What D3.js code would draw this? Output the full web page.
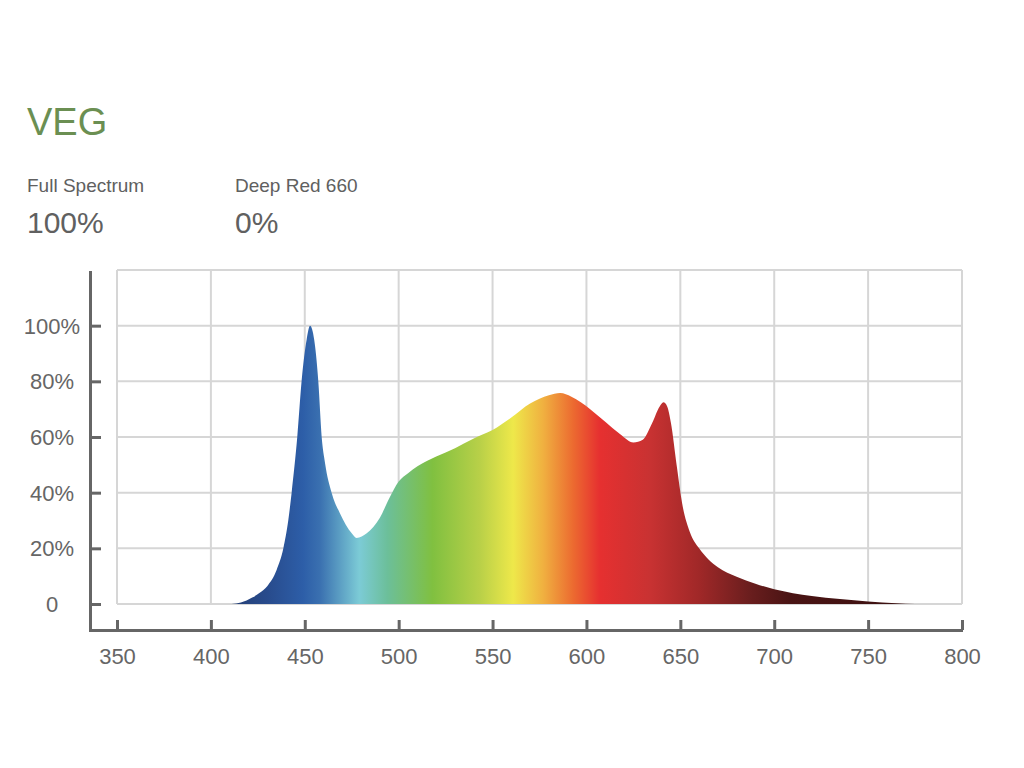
<!DOCTYPE html>
<html>
<head>
<meta charset="utf-8">
<script src="https://cdn.jsdelivr.net/npm/d3@7/dist/d3.min.js"></script>
<style>
  body { margin: 0; background: #fff; }
  text { font-family: "Liberation Sans", Arial, sans-serif; }
</style>
</head>
<body>
<svg id="chart" width="1024" height="768"></svg>
<script>
// Spectrum: wavelength (nm) and relative intensity (%)
const wavelengths = [411, 416, 422, 426, 430, 435, 438.6, 441.2, 443, 446, 448.3, 451, 452.8,
    455, 457.2, 459, 460.8, 464.3, 468.7, 475, 477.6, 483, 490, 495, 500, 505, 510,
    520, 530, 540, 550, 560, 570, 580, 586, 592, 597, 602, 610, 618, 625, 630,
    635, 639, 641, 643, 645, 648, 651, 655, 660, 665, 670, 675, 680, 690, 700, 710,
    720, 735, 750, 765, 775];
const intensity = [0, 0.5, 2.3, 4, 6.4, 12.2, 20, 30, 40, 60, 80, 95, 100,
    95, 80, 60, 50.6, 40, 32.6, 25.4, 23.7, 25.4, 31, 38, 44, 47, 49.5,
    53, 56, 59.5, 62.5, 67, 72, 75, 75.8, 74.5, 72.5, 70, 65.5, 61, 58, 59,
    65, 71, 72.5, 71, 65, 50, 36, 26, 20, 16, 13.2, 11.2, 9.8, 7.3, 5.3, 3.9,
    2.9, 1.8, 0.9, 0.3, 0];

const xTicks = [350, 400, 450, 500, 550, 600, 650, 700, 750, 800];
const yTicks = [0, 20, 40, 60, 80, 100];
const yGrid = [0, 20, 40, 60, 80, 100, 120];

// colour of the light at each wavelength
const stopNm = [410, 430, 449, 458, 479, 494, 518, 543, 561, 577, 593, 607, 634, 660, 687, 708, 775];
const stopColor = ["#243f75", "#284b8c", "#2d5ea8", "#3a70b0", "#7ccbd6", "#6cbf9a",
    "#80c040", "#b8d048", "#eee84a", "#f0b040", "#ec6a30", "#e63030", "#c83232",
    "#a02828", "#6a1e1e", "#4a1414", "#3a1010"];

const data = wavelengths.map((w, i) => ({ nm: w, pct: intensity[i] }));

const svg = d3.select("#chart");

const x = d3.scaleLinear().domain([350, 800]).range([117, 962]);
const y = d3.scaleLinear().domain([0, 120]).range([604, 270]);

// Header texts
svg.append("text").attr("x", 27).attr("y", 135)
    .style("font-size", "38px").style("fill", "#6b8f52").text("VEG");

const header = [
    { x: 27, label: "Full Spectrum", value: "100%" },
    { x: 235, label: "Deep Red 660", value: "0%" }
];
header.forEach(h => {
    svg.append("text").attr("x", h.x).attr("y", 192)
        .style("font-size", "19px").style("fill", "#606060").text(h.label);
    svg.append("text").attr("x", h.x).attr("y", 233)
        .style("font-size", "30px").style("fill", "#606060").text(h.value);
});

// Grid
const grid = svg.append("g").attr("class", "grid")
    .style("stroke", "#d6d6d6").style("stroke-width", 2);
grid.selectAll("line.v").data(xTicks).enter().append("line")
    .attr("x1", d => x(d)).attr("x2", d => x(d))
    .attr("y1", y(120)).attr("y2", y(0));
grid.selectAll("line.h").data(yGrid).enter().append("line")
    .attr("x1", x(350)).attr("x2", x(800))
    .attr("y1", d => y(d)).attr("y2", d => y(d));

// Gradient fill across the wavelengths
const grad = svg.append("defs").append("linearGradient")
    .attr("id", "spectrum")
    .attr("gradientUnits", "userSpaceOnUse")
    .attr("x1", x(410)).attr("x2", x(775))
    .attr("y1", 0).attr("y2", 0);
grad.selectAll("stop").data(stopNm).enter().append("stop")
    .attr("offset", d => (x(d) - x(410)) / (x(775) - x(410)))
    .attr("stop-color", (d, i) => stopColor[i]);

const areaGenerator = d3.area()
    .x(d => x(d.nm))
    .y0(y(0))
    .y1(d => y(d.pct))
    .curve(d3.curveMonotoneX);

svg.append("path")
    .datum(data)
    .attr("d", areaGenerator)
    .style("fill", "url(#spectrum)");

// Axes
const axisColor = "#666";
const yAxis = d3.axisRight(y).tickValues(yTicks).tickSize(11).tickFormat("");
const yg = svg.append("g").attr("transform", "translate(90,0)").call(yAxis);
yg.select(".domain").remove();
yg.selectAll("line").style("stroke", axisColor).style("stroke-width", 3);

svg.selectAll("text.ylab").data(yTicks).enter().append("text")
    .attr("class", "ylab")
    .attr("x", 52).attr("y", d => y(d) + 8)
    .attr("text-anchor", "middle")
    .style("font-size", "22px").style("fill", "#666")
    .text(d => d === 0 ? "0" : d + "%");

const xAxis = d3.axisBottom(x).tickValues(xTicks).tickSize(-10).tickPadding(18);
const xg = svg.append("g").attr("transform", "translate(0,630)").call(xAxis);
xg.select(".domain").remove();
xg.selectAll("line").style("stroke", axisColor).style("stroke-width", 3);
xg.selectAll("text").style("font-size", "22px").style("fill", "#666")
    .style("font-family", "'Liberation Sans', Arial, sans-serif");

// axis lines
svg.append("path")
    .attr("d", `M90.5,${y(120) + 1}V630.5H${x(800) + 1}`)
    .style("fill", "none").style("stroke", axisColor).style("stroke-width", 3);
</script>
</body>
</html>
